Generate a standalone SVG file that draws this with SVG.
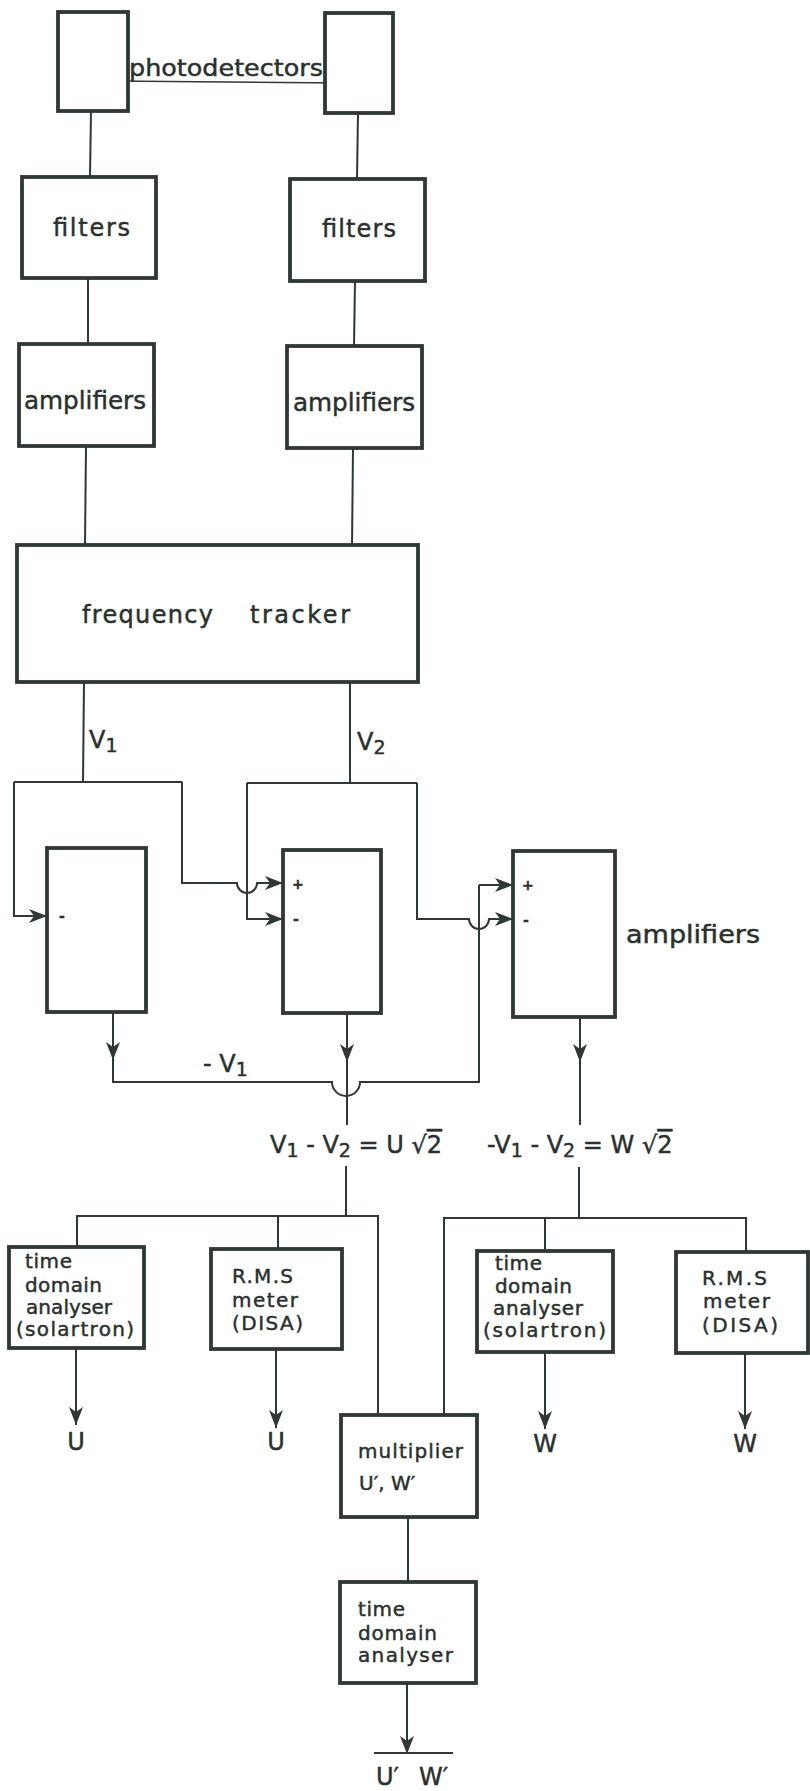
<svg xmlns="http://www.w3.org/2000/svg" width="810" height="1791" viewBox="0 0 810 1791">
<style>
  .box { fill: #ffffff; stroke: #2f3833; stroke-width: 3.8; }
  .ln { fill: none; stroke: #2f3833; stroke-width: 2; }
  .ar { fill: none; stroke: #2f3833; stroke-width: 2; marker-end: url(#ah); }
  text { font-family: "DejaVu Sans", "Liberation Sans", sans-serif; fill: #2a302d; stroke: #2a302d; stroke-width: 0.45; }
  .t22 { font-size: 23px; }
  .t18 { font-size: 20px; }
  .t24 { font-size: 24px; }
  .sm { font-size: 14px; font-weight: bold; }
</style>
<defs>
  <marker id="ah" markerUnits="userSpaceOnUse" markerWidth="19" markerHeight="16" refX="18" refY="8" orient="auto">
    <path d="M0,1 L18,8 L0,15 L5,8 z" fill="#2f3833"/>
  </marker>
</defs>
<rect width="810" height="1791" fill="#ffffff"/>

<g id="connectors">
  <line class="ln" x1="112" y1="81" x2="341" y2="83" style="stroke-width:1.6"/>
  <circle cx="112" cy="81" r="3.8" fill="#2f3833"/>
  <circle cx="341" cy="83" r="3.8" fill="#2f3833"/>
  <line class="ln" x1="91" y1="111" x2="90" y2="177"/>
  <line class="ln" x1="358" y1="113" x2="357" y2="179"/>
  <line class="ln" x1="88" y1="278" x2="88" y2="344"/>
  <line class="ln" x1="355" y1="281" x2="354" y2="346"/>
  <line class="ln" x1="86" y1="446" x2="85" y2="545"/>
  <line class="ln" x1="353" y1="448" x2="352" y2="547"/>
  <!-- V1 and V2 -->
  <line class="ln" x1="84" y1="682" x2="83" y2="782"/>
  <line class="ln" x1="350" y1="683" x2="350" y2="783"/>
  <path class="ar" d="M14,782 H182 M14,782 V916 H47"/>
  <path class="ar" d="M182,782 V883 H237 A10,10 0 0,0 257,883 H283"/>
  <path class="ar" d="M247,783 H417 M247,783 V919 H283"/>
  <path class="ar" d="M417,783 V919 H469 A10,10 0 0,0 489,919 H513"/>
  <!-- amp outputs -->
  <line class="ar" x1="113" y1="1012" x2="113" y2="1060"/>
  <path class="ln" d="M113,1058 V1082 H332 A14,14 0 0,0 360,1082 H479 V885"/>
  <line class="ar" x1="479" y1="885" x2="513" y2="885"/>
  <line class="ar" x1="347" y1="1013" x2="347" y2="1062"/>
  <line class="ln" x1="347" y1="1060" x2="347" y2="1125"/>
  <line class="ar" x1="580" y1="1017" x2="580" y2="1062"/>
  <line class="ln" x1="580" y1="1060" x2="580" y2="1125"/>
  <!-- left distribution -->
  <path class="ln" d="M346,1166 V1216 M77,1247 V1216 H378 V1415 M278,1216 V1248"/>
  <!-- right distribution -->
  <path class="ln" d="M579,1167 V1218 M444,1415 V1218 H746 V1252 M545,1218 V1251"/>
  <!-- outputs -->
  <line class="ar" x1="76" y1="1348" x2="76" y2="1425"/>
  <line class="ar" x1="276" y1="1349" x2="276" y2="1428"/>
  <line class="ar" x1="545" y1="1352" x2="545" y2="1429"/>
  <line class="ar" x1="745" y1="1353" x2="745" y2="1429"/>
  <line class="ln" x1="408" y1="1517" x2="408" y2="1582"/>
  <line class="ar" x1="407" y1="1683" x2="407" y2="1754"/>
  <line class="ln" x1="374" y1="1753" x2="453" y2="1753"/>
</g>

<g id="pd-left"><rect class="box" x="58" y="12" width="70" height="99"/></g>
<g id="pd-right"><rect class="box" x="325" y="13" width="68" height="100"/></g>
<g id="pd-label"><text class="t22" x="129" y="76" textLength="194" lengthAdjust="spacingAndGlyphs">photodetectors</text></g>

<g id="filters-left"><rect class="box" x="22" y="177" width="134" height="101"/>
  <text class="t24" x="53" y="236" textLength="77">filters</text></g>
<g id="filters-right"><rect class="box" x="290" y="179" width="135" height="102"/>
  <text class="t24" x="322" y="237" textLength="74">filters</text></g>

<g id="amps-left"><rect class="box" x="19" y="344" width="135" height="102"/>
  <text class="t24" x="24" y="409" textLength="122" lengthAdjust="spacingAndGlyphs">amplifiers</text></g>
<g id="amps-right"><rect class="box" x="287" y="346" width="135" height="102"/>
  <text class="t24" x="293" y="411" textLength="122" lengthAdjust="spacingAndGlyphs">amplifiers</text></g>

<g id="tracker"><rect class="box" x="17" y="545" width="401" height="137"/>
  <text class="t24" x="82" y="623" textLength="131">frequency</text>
  <text class="t24" x="250" y="623" textLength="100">tracker</text></g>

<g id="v-labels">
  <text class="t24" x="89" y="748">V<tspan font-size="19" dy="4">1</tspan></text>
  <text class="t24" x="357" y="750">V<tspan font-size="19" dy="4">2</tspan></text>
</g>

<g id="amp1"><rect class="box" x="47" y="848" width="99" height="164"/>
  <text class="sm" x="59" y="921">-</text></g>
<g id="amp2"><rect class="box" x="283" y="850" width="98" height="163"/>
  <text class="sm" x="292" y="889">+</text><text class="sm" x="293" y="924">-</text></g>
<g id="amp3"><rect class="box" x="513" y="851" width="102" height="166"/>
  <text class="sm" x="522" y="890">+</text><text class="sm" x="523" y="925">-</text></g>
<g id="amp-label"><text class="t24" x="626" y="943" textLength="134" lengthAdjust="spacingAndGlyphs">amplifiers</text></g>

<g id="minus-v1"><text class="t24" x="203" y="1072">-  V<tspan font-size="19" dy="4">1</tspan></text></g>

<g id="eq-u"><text class="t24" x="270" y="1153">V<tspan font-size="19" dy="4">1</tspan><tspan dy="-4"> - V</tspan><tspan font-size="19" dy="4">2</tspan><tspan dy="-4"> = U √</tspan><tspan text-decoration="overline">2</tspan></text></g>
<g id="eq-w"><text class="t24" x="487" y="1153">-V<tspan font-size="19" dy="4">1</tspan><tspan dy="-4"> - V</tspan><tspan font-size="19" dy="4">2</tspan><tspan dy="-4"> = W √</tspan><tspan text-decoration="overline">2</tspan></text></g>

<g id="tda-left"><rect class="box" x="9" y="1247" width="135" height="101"/>
  <text class="t18" x="25" y="1268" textLength="47">time</text>
  <text class="t18" x="25" y="1292" textLength="77">domain</text>
  <text class="t18" x="26" y="1314" textLength="86">analyser</text>
  <text class="t18" x="16" y="1336" textLength="118">(solartron)</text></g>
<g id="rms-left"><rect class="box" x="211" y="1249" width="131" height="100"/>
  <text class="t18" x="232" y="1283" textLength="61">R.M.S</text>
  <text class="t18" x="232" y="1307" textLength="66">meter</text>
  <text class="t18" x="232" y="1330" textLength="71">(DISA)</text></g>
<g id="tda-right"><rect class="box" x="477" y="1251" width="136" height="101"/>
  <text class="t18" x="495" y="1270" textLength="47">time</text>
  <text class="t18" x="495" y="1293" textLength="77">domain</text>
  <text class="t18" x="493" y="1315" textLength="90">analyser</text>
  <text class="t18" x="483" y="1337" textLength="123">(solartron)</text></g>
<g id="rms-right"><rect class="box" x="676" y="1252" width="132" height="101"/>
  <text class="t18" x="702" y="1285" textLength="65">R.M.S</text>
  <text class="t18" x="703" y="1308" textLength="67">meter</text>
  <text class="t18" x="702" y="1332" textLength="76">(DISA)</text></g>

<g id="out-labels">
  <text class="t24" x="76" y="1450" text-anchor="middle">U</text>
  <text class="t24" x="276" y="1450" text-anchor="middle">U</text>
  <text class="t24" x="545" y="1452" text-anchor="middle">W</text>
  <text class="t24" x="745" y="1452" text-anchor="middle">W</text>
</g>

<g id="multiplier"><rect class="box" x="341" y="1415" width="136" height="102"/>
  <text class="t18" x="358" y="1458" textLength="105">multiplier</text>
  <text x="359" y="1490" font-size="20">U′, W′</text></g>

<g id="tda-bottom"><rect class="box" x="340" y="1582" width="136" height="101"/>
  <text class="t18" x="358" y="1616" textLength="47">time</text>
  <text class="t18" x="358" y="1640" textLength="79">domain</text>
  <text class="t18" x="358" y="1662" textLength="95">analyser</text></g>

<g id="final-label"><text class="t24" x="376" y="1785">U′<tspan x="419">W′</tspan></text></g>
</svg>
